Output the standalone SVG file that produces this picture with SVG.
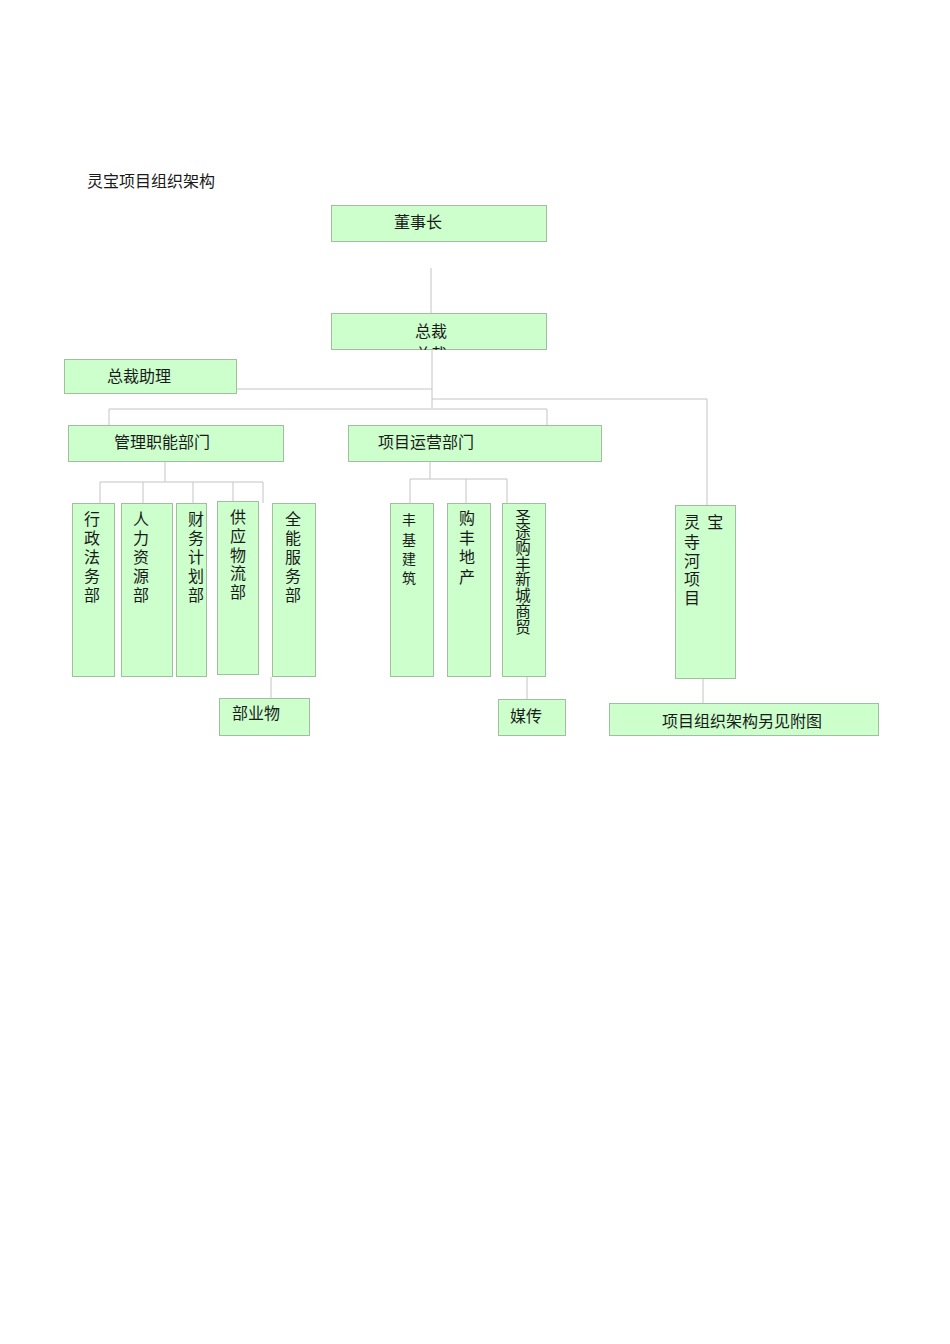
<svg xmlns="http://www.w3.org/2000/svg" width="950" height="1344" viewBox="0 0 950 1344">
<style>
.box{fill:#ccffcc;stroke:#9fbf9f;stroke-width:1}
.ln{fill:none;stroke:#c4c4c4;stroke-width:1}
.t{font-family:"Noto Sans CJK SC","Liberation Sans",sans-serif;font-size:16px;fill:#1a1a1a}
.v{writing-mode:vertical-rl;letter-spacing:3px}
</style>
<defs>
<clipPath id="clipZC"><rect x="331" y="313" width="216" height="37"/></clipPath>
</defs>
<rect width="950" height="1344" fill="#ffffff"/>
<text class="t" x="87" y="187" font-size="16.5">灵宝项目组织架构</text>

<g id="connectors">
<path class="ln" d="M431,268 V313"/>
<path class="ln" d="M432,350 V408"/>
<path class="ln" d="M237,389 H432"/>
<path class="ln" d="M432,399 H707 V505"/>
<path class="ln" d="M109,426 V409 H547 V426"/>
<path class="ln" d="M165,462 V482"/>
<path class="ln" d="M100,505 V482 H263 V503"/>
<path class="ln" d="M143,482 V503"/>
<path class="ln" d="M193,482 V503"/>
<path class="ln" d="M233,482 V501"/>
<path class="ln" d="M430,462 V479"/>
<path class="ln" d="M410,503 V479 H507 V503"/>
<path class="ln" d="M466,479 V503"/>
<path class="ln" d="M271,677 V698"/>
<path class="ln" d="M527,677 V699"/>
<path class="ln" d="M703,679 V703"/>
</g>

<g id="n-dongshizhang">
<rect class="box" x="331.5" y="205.5" width="215" height="36"/>
<text class="t" x="394" y="228">董事长</text>
</g>

<g id="n-zongcai">
<rect class="box" x="331.5" y="313.5" width="215" height="36"/>
<text class="t" x="415" y="337">总裁</text>
<text class="t" x="415" y="360" clip-path="url(#clipZC)">总裁</text>
</g>

<g id="n-zongcaizhuli">
<rect class="box" x="64.5" y="359.5" width="172" height="34"/>
<text class="t" x="107" y="382">总裁助理</text>
</g>

<g id="n-guanli">
<rect class="box" x="68.5" y="425.5" width="215" height="36"/>
<text class="t" x="114" y="448">管理职能部门</text>
</g>

<g id="n-yunying">
<rect class="box" x="348.5" y="425.5" width="253" height="36"/>
<text class="t" x="378" y="448">项目运营部门</text>
</g>

<g id="n-xingzheng">
<rect class="box" x="72.5" y="503.5" width="42" height="173"/>
<text class="t v" x="92" y="511">行政法务部</text>
</g>

<g id="n-renli">
<rect class="box" x="121.5" y="503.5" width="51" height="173"/>
<text class="t v" x="141" y="511">人力资源部</text>
</g>

<g id="n-caiwu">
<rect class="box" x="176.5" y="503.5" width="30" height="173"/>
<text class="t v" x="196" y="511">财务计划部</text>
</g>

<g id="n-gongying">
<rect class="box" x="217.5" y="501.5" width="41" height="173"/>
<text class="t v" x="238" y="509" style="letter-spacing:2.75px">供应物流部</text>
</g>

<g id="n-quanneng">
<rect class="box" x="272.5" y="503.5" width="43" height="173"/>
<text class="t v" x="293" y="511">全能服务部</text>
</g>

<g id="n-buyewu">
<rect class="box" x="219.5" y="698.5" width="90" height="37"/>
<text class="t" x="232" y="719">部业物</text>
</g>

<g id="n-fengji">
<rect class="box" x="390.5" y="503.5" width="43" height="173"/>
<text class="t v" x="409" y="513" style="font-size:14px;letter-spacing:5.3px">丰基建筑</text>
</g>

<g id="n-goufeng">
<rect class="box" x="447.5" y="503.5" width="43" height="173"/>
<text class="t v" x="467" y="510" style="letter-spacing:3.7px">购丰地产</text>
</g>

<g id="n-shengtu">
<rect class="box" x="502.5" y="503.5" width="43" height="173"/>
<text class="t v" x="523" y="509" style="font-size:15.5px;letter-spacing:0.2px">圣途购丰新城商贸</text>
</g>

<g id="n-meichuan">
<rect class="box" x="498.5" y="699.5" width="67" height="36"/>
<text class="t" x="510" y="722">媒传</text>
</g>

<g id="n-lingbao">
<rect class="box" x="675.5" y="505.5" width="60" height="173"/>
<text class="t" x="684" y="528" xml:space="preserve">灵  宝</text>
<text class="t v" x="692" y="534" style="letter-spacing:2.7px">寺河项目</text>
</g>

<g id="n-fujian">
<rect class="box" x="609.5" y="703.5" width="269" height="32"/>
<text class="t" x="662" y="727">项目组织架构另见附图</text>
</g>
</svg>
